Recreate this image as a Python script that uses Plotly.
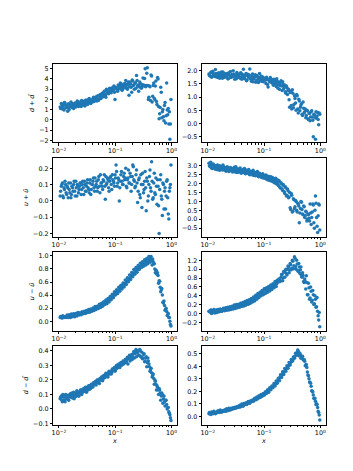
import plotly.graph_objects as go

# shared x samples, two interleaved sets
x = [0.0105, 0.0110, 0.0115, 0.0120, 0.0125, 0.0131, 0.0137, 0.0143, 0.0149, 0.0156,
     0.0163, 0.0170, 0.0178, 0.0186, 0.0194, 0.0203, 0.0212, 0.0222, 0.0232, 0.0242,
     0.0253, 0.0264, 0.0276, 0.0289, 0.0302, 0.0315, 0.0329, 0.0344, 0.0360, 0.0376,
     0.0393, 0.0410, 0.0429, 0.0448, 0.0468, 0.0489, 0.0511, 0.0534, 0.0558, 0.0584,
     0.0610, 0.0637, 0.0666, 0.0696, 0.0727, 0.0760, 0.0794, 0.0830, 0.0867, 0.0906,
     0.0947, 0.0990, 0.1034, 0.1081, 0.1129, 0.1180, 0.1233, 0.1289, 0.1347, 0.1408,
     0.1471, 0.1537, 0.1606, 0.1679, 0.1754, 0.1833, 0.1916, 0.2002, 0.2092, 0.2186,
     0.2284, 0.2387, 0.2495, 0.2607, 0.2724, 0.2847, 0.2975, 0.3109, 0.3249, 0.3395,
     0.3548, 0.3708, 0.3875, 0.4049, 0.4231, 0.4422, 0.4621, 0.4829, 0.5046, 0.5273,
     0.5510, 0.5758, 0.6018, 0.6288, 0.6571, 0.6867, 0.7176, 0.7499, 0.7837, 0.8190,
     0.8558, 0.8943, 0.9346, 0.9766]

x_b = [0.0107, 0.0113, 0.0117, 0.0123, 0.0128, 0.0134, 0.0140, 0.0146, 0.0152, 0.0160,
       0.0166, 0.0174, 0.0182, 0.0190, 0.0199, 0.0208, 0.0217, 0.0227, 0.0237, 0.0248,
       0.0258, 0.0270, 0.0283, 0.0295, 0.0308, 0.0322, 0.0337, 0.0352, 0.0368, 0.0384,
       0.0402, 0.0420, 0.0438, 0.0458, 0.0478, 0.0500, 0.0522, 0.0546, 0.0571, 0.0597,
       0.0624, 0.0651, 0.0681, 0.0711, 0.0743, 0.0777, 0.0812, 0.0848, 0.0886, 0.0926,
       0.0968, 0.1012, 0.1057, 0.1105, 0.1155, 0.1206, 0.1261, 0.1318, 0.1377, 0.1439,
       0.1504, 0.1571, 0.1642, 0.1716, 0.1793, 0.1874, 0.1959, 0.2047, 0.2139, 0.2235,
       0.2335, 0.2441, 0.2551, 0.2665, 0.2785, 0.2911, 0.3042, 0.3179, 0.3322, 0.3471,
       0.3627, 0.3791, 0.3961, 0.4139, 0.4326, 0.4520, 0.4724, 0.4936, 0.5158, 0.5390,
       0.5633, 0.5886, 0.6151, 0.6428, 0.6717, 0.7020, 0.7336, 0.7667, 0.8012, 0.8372,
       0.8749, 0.9143, 0.9550]

d_plus_dbar_left = [1.25, 1.60, 1.05, 1.45, 1.70, 1.15, 1.40, 0.85, 1.55, 1.30,
    1.75, 1.20, 1.50, 1.35, 1.65, 1.40, 1.85, 1.30, 1.60, 1.45,
    1.90, 1.55, 1.70, 1.35, 1.95, 1.60, 1.80, 2.10, 1.65, 1.95,
    1.75, 2.20, 1.90, 2.15, 1.85, 2.35, 2.00, 2.45, 2.10, 2.60,
    2.25, 2.80, 2.40, 3.00, 2.70, 2.55, 3.10, 2.75, 3.05, 2.90,
    3.30, 2.00, 3.15, 2.85, 3.40, 3.05, 3.60, 3.20, 2.95, 3.50,
    3.30, 3.85, 3.10, 3.45, 2.40, 3.70, 3.20, 3.90, 3.35, 3.00,
    3.60, 4.35, 3.30, 2.80, 3.70, 3.20, 3.45, 4.10, 3.30, 5.00,
    3.35, 5.10, 2.00, 3.30, 1.90, 4.30, 2.30, 3.60, 2.00, 3.80,
    1.50, 4.00, 0.10, 1.20, 2.70, 0.80, 0.30, 1.40, -0.30, 3.60,
    0.50, -0.40, -1.90, 2.00]
d_plus_dbar_left_b = [1.10, 1.50, 1.30, 0.95, 1.65, 1.40, 1.20, 1.55, 1.00, 1.45,
    1.35, 1.60, 1.10, 1.50, 1.25, 1.70, 1.55, 1.40, 1.75, 1.30,
    1.60, 1.45, 1.85, 1.55, 1.70, 1.50, 2.00, 1.75, 1.60, 1.90,
    2.05, 1.80, 1.95, 2.25, 2.05, 1.90, 2.30, 2.15, 2.50, 2.30,
    2.65, 2.50, 2.20, 2.85, 2.60, 3.00, 2.80, 2.65, 3.15, 3.00,
    2.70, 3.20, 3.05, 2.80, 3.30, 3.10, 3.45, 2.90, 3.30, 3.15,
    3.55, 3.35, 3.00, 3.70, 3.25, 3.50, 2.70, 3.80, 3.40, 3.60,
    3.10, 3.85, 3.40, 3.25, 3.55, 3.10, 3.30, 3.40, 4.05, 3.25,
    4.55, 3.35, 2.20, 3.25, 4.40, 1.75, 3.35, 2.10, 3.30, 1.80,
    4.15, 1.30, 0.60, 3.20, 0.20, 1.00, -0.10, 1.70, 0.40, 0.95,
    1.10, 0.80, -0.40]

d_plus_dbar_right = [1.88, 1.80, 1.95, 1.78, 1.90, 1.84, 2.05, 1.76, 1.86, 1.92,
    1.72, 1.88, 1.81, 1.95, 1.74, 1.86, 1.79, 1.90, 1.70, 1.84,
    1.97, 1.76, 1.82, 1.88, 1.68, 1.80, 1.93, 1.75, 1.85, 1.72,
    1.90, 1.78, 2.06, 1.70, 1.83, 1.62, 1.87, 1.76, 2.07, 1.68,
    1.80, 1.58, 1.74, 1.85, 1.63, 1.78, 1.55, 1.90, 1.70, 1.60,
    1.76, 1.66, 1.72, 1.52, 1.68, 1.38, 1.62, 1.74, 1.55, 1.66,
    1.45, 1.60, 1.52, 1.70, 1.35, 1.56, 1.44, 1.62, 1.25, 1.48,
    1.38, 1.20, 1.42, 1.10, 1.30, 0.62, 1.22, 0.55, 1.15, 0.72,
    0.95, 0.50, 1.05, 0.40, 0.85, 0.62, 0.75, 0.30, 0.58, 0.45,
    0.22, 0.50, 0.18, 0.40, 0.10, 0.45, 0.25, -0.50, 0.32, -0.60,
    0.20, 0.42, -0.05, 0.35]
d_plus_dbar_right_b = [1.82, 1.92, 1.75, 1.98, 1.85, 1.78, 1.90, 1.82, 1.74, 1.88,
    1.80, 1.95, 1.72, 1.85, 1.90, 1.76, 1.83, 1.70, 1.92, 1.80,
    1.74, 1.86, 2.00, 1.78, 1.84, 1.70, 1.88, 1.80, 1.76, 1.92,
    1.68, 1.85, 1.74, 1.80, 1.90, 1.66, 1.78, 1.84, 1.72, 1.60,
    1.88, 1.70, 1.76, 1.56, 1.82, 1.68, 1.74, 1.62, 1.80, 1.66,
    1.58, 1.70, 1.64, 1.75, 1.48, 1.66, 1.58, 1.70, 1.62, 1.50,
    1.68, 1.56, 1.40, 1.60, 1.48, 1.30, 1.55, 1.42, 1.58, 1.32,
    1.46, 1.15, 1.36, 1.25, 0.90, 1.18, 0.68, 1.28, 0.60, 1.05,
    0.78, 1.10, 0.55, 0.92, 0.48, 0.70, 0.35, 0.82, 0.40, 0.55,
    0.30, 0.48, 0.15, 0.38, 0.25, 0.48, 0.12, 0.35, 0.22, 0.45,
    0.28, 0.15, 0.40]

u_plus_ubar_left = [0.03, 0.09, 0.11, 0.02, 0.07, 0.10, 0.04, 0.08, 0.11, 0.05,
    0.02, 0.09, 0.06, 0.12, 0.03, 0.08, 0.10, 0.05, 0.09, 0.11,
    0.07, 0.12, 0.04, 0.10, 0.06, 0.11, 0.08, 0.05, 0.13, 0.07,
    0.10, 0.14, 0.06, 0.09, 0.12, 0.08, 0.15, 0.05, 0.11, 0.09,
    0.13, 0.16, 0.01, 0.10, 0.14, 0.08, 0.12, 0.15, 0.07, 0.13,
    0.11, 0.16, 0.22, 0.09, 0.14, 0.00, 0.12, 0.18, 0.10, 0.15,
    0.13, 0.20, 0.08, 0.14, 0.11, 0.17, 0.06, 0.15, 0.21, 0.12,
    0.09, 0.19, -0.01, 0.13, 0.04, 0.16, -0.04, 0.10, 0.07, 0.18,
    -0.06, 0.12, 0.03, 0.15, 0.08, 0.24, 0.01, 0.11, 0.05, 0.14,
    -0.02, 0.09, -0.20, 0.13, 0.03, -0.09, 0.10, 0.06, -0.05, 0.12,
    0.02, -0.11, 0.08, 0.22]
u_plus_ubar_left_b = [0.06, 0.10, 0.03, 0.08, 0.12, 0.05, 0.09, 0.02, 0.07, 0.11,
    0.04, 0.08, 0.10, 0.06, 0.12, 0.03, 0.09, 0.07, 0.11, 0.04,
    0.10, 0.08, 0.12, 0.06, 0.09, 0.13, 0.07, 0.11, 0.04, 0.10,
    0.12, 0.08, 0.14, 0.10, 0.06, 0.13, 0.09, 0.16, 0.11, 0.07,
    0.12, 0.09, 0.15, 0.11, 0.13, 0.06, 0.14, 0.10, 0.16, 0.12,
    0.09, 0.14, 0.18, 0.11, 0.13, 0.08, 0.16, 0.12, 0.10, 0.17,
    0.14, 0.09, 0.13, 0.19, 0.11, 0.15, 0.10, 0.22, 0.13, 0.08,
    0.16, 0.11, 0.06, 0.14, 0.02, 0.10, 0.17, 0.05, 0.12, 0.08,
    0.14, 0.00, 0.10, 0.19, 0.06, 0.12, 0.02, 0.17, 0.04, 0.09,
    0.13, -0.03, 0.07, 0.16, 0.01, 0.11, -0.05, 0.08, 0.03, 0.13,
    -0.08, 0.06, 0.10]

u_plus_ubar_right = [3.15, 2.95, 3.05, 2.85, 3.10, 2.90, 3.00, 2.80, 3.05, 2.92,
    2.75, 2.98, 2.88, 3.05, 2.78, 2.90, 2.70, 2.95, 2.82, 2.72,
    2.90, 2.78, 2.65, 2.85, 2.75, 2.95, 2.62, 2.80, 2.70, 2.88,
    2.58, 2.75, 2.68, 2.85, 2.55, 2.72, 2.60, 2.80, 2.50, 2.66,
    2.58, 2.75, 2.45, 2.62, 2.52, 2.68, 2.40, 2.58, 2.45, 2.35,
    2.55, 2.42, 2.30, 2.48, 2.35, 2.20, 2.40, 2.28, 2.15, 2.35,
    2.22, 2.05, 2.30, 2.12, 1.95, 2.18, 1.80, 2.05, 1.70, 1.95,
    1.55, 1.82, 1.30, 1.70, 1.20, 1.50, 0.55, 1.35, 0.45, 1.10,
    0.70, 1.00, 0.40, 0.85, -0.20, 0.60, 0.95, 0.30, 0.75, 0.10,
    0.45, -0.10, 0.30, 0.05, 0.85, -0.30, 0.40, 0.80, -0.50, 1.30,
    0.10, -0.75, 0.85, -0.60]
u_plus_ubar_right_b = [3.00, 3.20, 2.88, 3.08, 2.95, 2.82, 3.02, 2.90, 2.78, 3.00,
    2.85, 2.92, 2.76, 2.98, 2.84, 2.74, 2.88, 2.80, 2.68, 2.86,
    2.74, 2.82, 2.70, 2.92, 2.66, 2.78, 2.84, 2.64, 2.76, 2.70,
    2.62, 2.80, 2.66, 2.58, 2.76, 2.64, 2.70, 2.52, 2.68, 2.60,
    2.48, 2.66, 2.56, 2.44, 2.60, 2.50, 2.38, 2.54, 2.40, 2.50,
    2.32, 2.45, 2.38, 2.25, 2.42, 2.30, 2.18, 2.38, 2.25, 2.10,
    2.28, 2.15, 2.00, 2.22, 1.90, 2.10, 1.75, 1.98, 1.62, 1.88,
    1.45, 1.75, 1.35, 1.60, 1.25, 0.65, 1.45, 0.40, 1.15, 0.60,
    1.05, 0.50, 0.90, 0.75, 0.35, 1.00, 0.55, 0.25, 0.70, 0.20,
    0.40, 0.00, 0.25, -0.10, 0.35, 0.10, 0.85, -0.20, 0.50, 0.90,
    -0.40, 0.20, 0.80]

u_minus_ubar_left = [0.060, 0.065, 0.055, 0.070, 0.065, 0.075, 0.070, 0.080, 0.075, 0.085,
    0.080, 0.090, 0.085, 0.095, 0.100, 0.095, 0.105, 0.110, 0.105, 0.120,
    0.115, 0.125, 0.130, 0.125, 0.140, 0.150, 0.145, 0.160, 0.155, 0.170,
    0.180, 0.175, 0.190, 0.200, 0.210, 0.205, 0.220, 0.235, 0.230, 0.250,
    0.260, 0.270, 0.285, 0.300, 0.310, 0.320, 0.340, 0.350, 0.370, 0.380,
    0.400, 0.420, 0.430, 0.450, 0.470, 0.480, 0.500, 0.520, 0.530, 0.560,
    0.570, 0.590, 0.610, 0.620, 0.650, 0.660, 0.690, 0.700, 0.730, 0.740,
    0.760, 0.780, 0.790, 0.810, 0.830, 0.840, 0.860, 0.880, 0.870, 0.900,
    0.920, 0.900, 0.940, 0.920, 0.970, 0.930, 0.950, 0.880, 0.800, 0.780,
    0.720, 0.700, 0.620, 0.520, 0.480, 0.400, 0.280, 0.240, 0.180, 0.150,
    0.100, 0.060, 0.000, -0.070]
u_minus_ubar_left_b = [0.075, 0.050, 0.085, 0.060, 0.070, 0.060, 0.095, 0.060, 0.100, 0.060,
    0.110, 0.070, 0.115, 0.070, 0.120, 0.080, 0.135, 0.095, 0.130, 0.100,
    0.145, 0.115, 0.155, 0.120, 0.165, 0.135, 0.180, 0.140, 0.190, 0.155,
    0.205, 0.165, 0.225, 0.180, 0.230, 0.195, 0.260, 0.210, 0.275, 0.230,
    0.300, 0.255, 0.325, 0.270, 0.350, 0.295, 0.380, 0.330, 0.415, 0.360,
    0.450, 0.400, 0.480, 0.425, 0.520, 0.460, 0.550, 0.495, 0.585, 0.525,
    0.630, 0.560, 0.665, 0.605, 0.705, 0.640, 0.745, 0.680, 0.790, 0.720,
    0.820, 0.750, 0.850, 0.790, 0.885, 0.820, 0.910, 0.840, 0.940, 0.860,
    0.960, 0.880, 0.990, 0.900, 0.990, 0.860, 0.910, 0.880, 0.740, 0.770,
    0.740, 0.580, 0.610, 0.450, 0.500, 0.290, 0.310, 0.170, 0.200, 0.090,
    0.120, 0.060, -0.050]

u_minus_ubar_right = [0.05, 0.03, 0.07, 0.04, 0.02, 0.06, 0.05, 0.08, 0.04, 0.07,
    0.06, 0.09, 0.05, 0.08, 0.10, 0.07, 0.11, 0.09, 0.12, 0.10,
    0.13, 0.11, 0.14, 0.12, 0.15, 0.13, 0.16, 0.18, 0.15, 0.19,
    0.20, 0.17, 0.21, 0.22, 0.19, 0.23, 0.24, 0.22, 0.27, 0.29,
    0.27, 0.32, 0.35, 0.32, 0.39, 0.37, 0.42, 0.40, 0.45, 0.49,
    0.47, 0.53, 0.56, 0.50, 0.55, 0.52, 0.58, 0.55, 0.62, 0.60,
    0.65, 0.63, 0.70, 0.67, 0.73, 0.78, 0.72, 0.82, 0.88, 0.80,
    0.93, 0.97, 0.90, 1.00, 1.05, 0.98, 1.10, 1.02, 1.18, 1.08,
    1.25, 1.00, 1.12, 0.95, 1.05, 0.98, 0.85, 0.92, 0.72, 0.78,
    0.55, 0.70, 0.42, 0.58, 0.35, 0.50, 0.30, 0.42, 0.22, 0.32,
    0.15, 0.05, -0.15, -0.30]
u_minus_ubar_right_b = [0.04, 0.08, 0.00, 0.06, 0.09, 0.01, 0.07, 0.02, 0.09, 0.04,
    0.10, 0.05, 0.08, 0.12, 0.06, 0.13, 0.07, 0.14, 0.08, 0.15,
    0.09, 0.16, 0.10, 0.19, 0.11, 0.20, 0.13, 0.21, 0.14, 0.23,
    0.16, 0.25, 0.17, 0.27, 0.19, 0.29, 0.21, 0.31, 0.23, 0.34,
    0.26, 0.37, 0.28, 0.41, 0.32, 0.45, 0.36, 0.48, 0.40, 0.52,
    0.42, 0.56, 0.45, 0.58, 0.48, 0.61, 0.51, 0.64, 0.54, 0.67,
    0.58, 0.72, 0.61, 0.75, 0.71, 0.76, 0.74, 0.88, 0.74, 0.95,
    0.82, 1.00, 0.87, 1.07, 0.92, 1.13, 0.99, 1.20, 1.01, 1.28,
    1.06, 1.20, 0.97, 1.13, 0.90, 1.05, 0.82, 0.86, 0.70, 0.72,
    0.85, 0.42, 0.68, 0.32, 0.60, 0.26, 0.52, 0.20, 0.40, 0.14,
    0.36, -0.05, 0.02]

d_minus_dbar_left = [0.07, 0.09, 0.05, 0.08, 0.06, 0.10, 0.07, 0.09, 0.06, 0.10,
    0.08, 0.11, 0.09, 0.07, 0.11, 0.10, 0.12, 0.09, 0.11, 0.13,
    0.10, 0.12, 0.14, 0.12, 0.13, 0.15, 0.13, 0.16, 0.14, 0.17,
    0.15, 0.18, 0.17, 0.19, 0.18, 0.20, 0.19, 0.21, 0.20, 0.22,
    0.21, 0.23, 0.22, 0.24, 0.23, 0.25, 0.24, 0.26, 0.25, 0.27,
    0.28, 0.26, 0.29, 0.28, 0.30, 0.29, 0.31, 0.30, 0.32, 0.31,
    0.33, 0.32, 0.34, 0.31, 0.35, 0.33, 0.36, 0.34, 0.38, 0.35,
    0.39, 0.36, 0.40, 0.37, 0.41, 0.36, 0.39, 0.35, 0.38, 0.33,
    0.36, 0.32, 0.33, 0.29, 0.27, 0.25, 0.23, 0.21, 0.20, 0.17,
    0.16, 0.13, 0.14, 0.11, 0.09, 0.10, 0.07, 0.05, 0.06, 0.03,
    0.01, -0.02, -0.04, -0.08]
d_minus_dbar_left_b = [0.08, 0.06, 0.10, 0.085, 0.05, 0.075, 0.095, 0.065, 0.085, 0.105,
    0.095, 0.075, 0.115, 0.10, 0.085, 0.125, 0.105, 0.09, 0.115, 0.13,
    0.11, 0.135, 0.125, 0.15, 0.115, 0.14, 0.16, 0.135, 0.15, 0.165,
    0.155, 0.175, 0.185, 0.165, 0.20, 0.19, 0.175, 0.21, 0.22, 0.195,
    0.23, 0.215, 0.245, 0.235, 0.22, 0.26, 0.25, 0.24, 0.275, 0.265,
    0.285, 0.27, 0.30, 0.295, 0.31, 0.285, 0.32, 0.305, 0.33, 0.315,
    0.34, 0.325, 0.355, 0.345, 0.37, 0.35, 0.375, 0.36, 0.395, 0.38,
    0.41, 0.385, 0.395, 0.37, 0.40, 0.355, 0.345, 0.375, 0.325, 0.35,
    0.29, 0.35, 0.31, 0.26, 0.28, 0.22, 0.24, 0.17, 0.19, 0.13,
    0.15, 0.10, 0.13, 0.06, 0.11, 0.04, 0.09, 0.02, 0.06, 0.00,
    0.01, -0.03, -0.06]

d_minus_dbar_right = [0.020, 0.025, 0.020, 0.030, 0.025, 0.030, 0.020, 0.035, 0.030, 0.040,
    0.035, 0.040, 0.035, 0.045, 0.040, 0.050, 0.045, 0.050, 0.055, 0.050,
    0.060, 0.055, 0.065, 0.060, 0.070, 0.065, 0.075, 0.070, 0.080, 0.075,
    0.085, 0.090, 0.085, 0.095, 0.100, 0.095, 0.105, 0.110, 0.105, 0.120,
    0.125, 0.120, 0.130, 0.140, 0.135, 0.145, 0.150, 0.160, 0.155, 0.165,
    0.175, 0.170, 0.180, 0.190, 0.200, 0.195, 0.210, 0.220, 0.230, 0.235,
    0.245, 0.255, 0.260, 0.275, 0.285, 0.290, 0.310, 0.320, 0.330, 0.345,
    0.355, 0.370, 0.380, 0.395, 0.405, 0.420, 0.430, 0.445, 0.450, 0.470,
    0.480, 0.500, 0.510, 0.520, 0.500, 0.490, 0.470, 0.480, 0.450, 0.440,
    0.410, 0.390, 0.330, 0.300, 0.270, 0.240, 0.200, 0.170, 0.140, 0.120,
    0.100, 0.070, 0.030, -0.030]
d_minus_dbar_right_b = [0.030, 0.015, 0.035, 0.020, 0.040, 0.025, 0.030, 0.030, 0.045, 0.030,
    0.050, 0.035, 0.045, 0.045, 0.050, 0.040, 0.060, 0.045, 0.065, 0.050,
    0.065, 0.060, 0.068, 0.064, 0.072, 0.070, 0.078, 0.075, 0.088, 0.078,
    0.098, 0.080, 0.103, 0.094, 0.108, 0.098, 0.118, 0.108, 0.123, 0.118,
    0.130, 0.122, 0.145, 0.132, 0.155, 0.140, 0.165, 0.150, 0.175, 0.160,
    0.182, 0.170, 0.197, 0.183, 0.212, 0.193, 0.228, 0.212, 0.243, 0.228,
    0.263, 0.243, 0.283, 0.265, 0.305, 0.285, 0.332, 0.310, 0.357, 0.335,
    0.382, 0.360, 0.405, 0.385, 0.430, 0.410, 0.455, 0.440, 0.475, 0.465,
    0.505, 0.490, 0.530, 0.485, 0.505, 0.465, 0.475, 0.455, 0.455, 0.405,
    0.415, 0.355, 0.325, 0.275, 0.265, 0.205, 0.195, 0.145, 0.145, 0.095,
    0.095, 0.040, 0.010]

x_tickvals = [0.01, 0.1, 1]
x_ticktext = ["10<sup>\u22122</sup>", "10<sup>\u22121</sup>", "10<sup>0</sup>"]
x_minor = [0.02, 0.03, 0.04, 0.05, 0.06, 0.07, 0.08, 0.09,
           0.2, 0.3, 0.4, 0.5, 0.6, 0.7, 0.8, 0.9]

y_labels = ["<i>d</i> + <i>d\u0304</i>", "<i>u</i> + <i>\u016b</i>",
            "<i>u</i> \u2212 <i>\u016b</i>", "<i>d</i> \u2212 <i>d\u0304</i>"]
x_label = "<i>x</i>"

# (values a, values b, row, col, yrange, dtick, tickformat)
panels = [
    (d_plus_dbar_left, d_plus_dbar_left_b, 0, 0, [-2.22, 5.45], 1, "d"),
    (d_plus_dbar_right, d_plus_dbar_right_b, 0, 1, [-0.72, 2.25], 0.5, ".1f"),
    (u_plus_ubar_left, u_plus_ubar_left_b, 1, 0, [-0.218, 0.262], 0.1, ".1f"),
    (u_plus_ubar_right, u_plus_ubar_right_b, 1, 1, [-0.97, 3.43], 0.5, ".1f"),
    (u_minus_ubar_left, u_minus_ubar_left_b, 2, 0, [-0.14, 1.055], 0.2, ".1f"),
    (u_minus_ubar_right, u_minus_ubar_right_b, 2, 1, [-0.386, 1.385], 0.2, ".1f"),
    (d_minus_dbar_left, d_minus_dbar_left_b, 3, 0, [-0.107, 0.432], 0.1, ".1f"),
    (d_minus_dbar_right, d_minus_dbar_right_b, 3, 1, [-0.066, 0.561], 0.1, ".1f"),
]

W, H = 353, 471
left, right, top, bottom = 0.125, 0.9, 0.88, 0.11
wspace, hspace = 0.2, 0.2
cw = (right - left) / (2 + wspace)
rh = (top - bottom) / (4 + 3 * hspace)
xdoms = [[left, left + cw], [right - cw, right]]
ydoms = [[top - r * rh * (1 + hspace) - rh, top - r * rh * (1 + hspace)] for r in range(4)]

FONT = "DejaVu Sans"
FS = 6.4
TL = 2.3
fig = go.Figure()
layout = {}
for k, (va, vb, r, c, yr, dt, fmt) in enumerate(panels):
    n = k + 1
    xa = "x" if n == 1 else f"x{n}"
    ya = "y" if n == 1 else f"y{n}"
    fig.add_trace(go.Scatter(x=x + x_b, y=va + vb, mode="markers", xaxis=xa, yaxis=ya,
                             marker=dict(size=3.5, color="#1f77b4", line=dict(width=0)),
                             showlegend=False, hoverinfo="skip"))
    xkey = "xaxis" if n == 1 else f"xaxis{n}"
    ykey = "yaxis" if n == 1 else f"yaxis{n}"
    layout[xkey] = dict(
        type="log", range=[-2.106, 0.097], domain=xdoms[c], anchor=ya,
        tickmode="array", tickvals=x_tickvals, ticktext=x_ticktext,
        ticks="outside", ticklen=TL, tickwidth=0.6, tickcolor="black",
        minor=dict(tickmode="array", tickvals=x_minor, ticks="outside",
                   ticklen=1.3, tickwidth=0.5, tickcolor="black", showgrid=False),
        showline=True, linecolor="black", linewidth=0.6, mirror=True,
        showgrid=False, zeroline=False,
        tickfont=dict(family=FONT, size=FS, color="black"),
    )
    if r == 3:
        layout[xkey]["title"] = dict(text=x_label, standoff=0,
                                     font=dict(family=FONT, size=FS, color="black"))
    layout[ykey] = dict(
        range=yr, domain=ydoms[r], anchor=xa, dtick=dt, tick0=0, tickformat=fmt,
        ticks="outside", ticklen=TL, tickwidth=0.6, tickcolor="black",
        showline=True, linecolor="black", linewidth=0.6, mirror=True,
        showgrid=False, zeroline=False,
        tickfont=dict(family=FONT, size=FS, color="black"),
    )
    if c == 0:
        layout[ykey]["title"] = dict(text=y_labels[r], standoff=3,
                                     font=dict(family=FONT, size=FS, color="black"))

fig.update_layout(**layout)
fig.update_layout(width=W, height=H, margin=dict(l=0, r=0, t=0, b=0),
                  paper_bgcolor="white", plot_bgcolor="white",
                  font=dict(family=FONT, size=FS, color="black"))
fig.write_html("out.html")
